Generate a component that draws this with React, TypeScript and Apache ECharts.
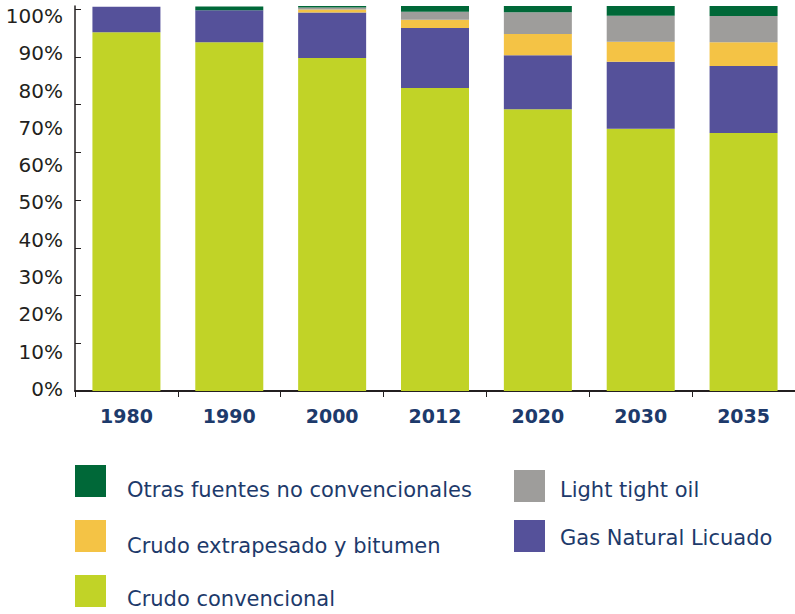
import React, { useEffect, useRef } from "react";
import * as echarts from "echarts";

const categories = ["1980", "1990", "2000", "2012", "2020", "2030", "2035"];
const crudoConvencional = [93.2, 90.6, 86.5, 78.7, 73.2, 68.1, 67.0];
const gasNaturalLicuado = [6.6, 8.3, 11.8, 15.6, 14.0, 17.4, 17.4];
const crudoExtrapesado = [0, 0, 0.8, 2.1, 5.5, 5.2, 6.2];
const lightTightOil = [0, 0, 0.5, 2.1, 5.7, 6.8, 6.8];
const otrasFuentes = [0, 1.0, 0.4, 1.6, 1.6, 2.6, 2.6];
const yLabelValues = [0, 10, 20, 30, 40, 50, 60, 70, 80, 90, 100];
const yTickValues = [0, 12.4, 24.8, 37.2, 49.6, 62, 74.4, 86.8, 99.2];

const NAVY = "#1d3a6b";
const FONT = "'DejaVu Sans', 'Noto Sans', sans-serif";

const names = {
  otras: "Otras fuentes no convencionales",
  extra: "Crudo extrapesado y bitumen",
  crudo: "Crudo convencional",
  lto: "Light tight oil",
  gnl: "Gas Natural Licuado",
};

function legendItem(name: string, left: number, top: number, padTop: number, padLeft: number) {
  return {
    show: true,
    data: [name],
    left,
    top,
    padding: 0,
    orient: "vertical",
    icon: "rect",
    itemWidth: 31,
    itemHeight: 32,
    selectedMode: false,
    formatter: (n: string) => `{t|${n}}`,
    textStyle: {
      fontFamily: FONT,
      fontSize: 21,
      color: NAVY,
      rich: {
        t: {
          fontFamily: FONT,
          fontSize: 21,
          color: NAVY,
          padding: [padTop, 0, 0, padLeft],
        },
      },
    },
  };
}

export default function App() {
  const ref = useRef<HTMLDivElement>(null);
  useEffect(() => {
    if (!ref.current) return;
    const chart = echarts.init(ref.current, undefined, { renderer: "svg" });
    const bar = (name: string, data: number[], color: string) => ({
      name,
      type: "bar",
      stack: "total",
      data,
      barWidth: 68,
      itemStyle: { color },
      xAxisIndex: 0,
      yAxisIndex: 0,
    });
    chart.setOption({
      animation: false,
      backgroundColor: "#ffffff",
      grid: { left: 75, right: 0, top: 6, bottom: 223, containLabel: false },
      legend: [
        legendItem(names.otras, 75, 465, 18, 16),
        legendItem(names.extra, 75, 520, 20, 16),
        legendItem(names.crudo, 75, 575, 16, 16),
        legendItem(names.lto, 514, 470, 8, 10),
        legendItem(names.gnl, 514, 520, 4, 10),
      ],
      xAxis: {
        type: "category",
        data: categories,
        boundaryGap: true,
        axisLine: { show: true, lineStyle: { color: "#231f20", width: 2 } },
        axisTick: { show: true, interval: 0, length: 6, lineStyle: { color: "#231f20", width: 1 } },
        axisLabel: {
          interval: 0,
          margin: 15,
          fontFamily: FONT,
          fontWeight: "bold",
          fontSize: 19,
          color: NAVY,
        },
        splitLine: { show: false },
      },
      yAxis: [
        {
          type: "value",
          min: 0,
          max: 100,
          position: "left",
          axisLine: { show: true, lineStyle: { color: "#231f20", width: 1.5 } },
          axisTick: {
            show: true,
            inside: true,
            length: 6,
            customValues: yTickValues,
            lineStyle: { color: "#231f20", width: 1 },
          },
          axisLabel: { show: false },
          splitLine: { show: false },
        },
        {
          type: "value",
          min: -0.536,
          max: 102.68,
          position: "left",
          axisLine: { show: false },
          axisTick: { show: false },
          axisLabel: {
            show: true,
            customValues: yLabelValues,
            formatter: "{value}%",
            margin: 12,
            fontFamily: FONT,
            fontSize: 20,
            color: "#231f20",
          },
          splitLine: { show: false },
        },
      ],
      series: [
        bar(names.crudo, crudoConvencional, "#c1d327"),
        bar(names.gnl, gasNaturalLicuado, "#55519a"),
        bar(names.extra, crudoExtrapesado, "#f4c345"),
        bar(names.lto, lightTightOil, "#9e9d9b"),
        bar(names.otras, otrasFuentes, "#006838"),
      ],
    });
    return () => chart.dispose();
  }, []);
  return (
    <div
      ref={ref}
      style={{ position: "fixed", left: 0, top: 0, width: 795, height: 614, background: "#fff" }}
    />
  );
}
